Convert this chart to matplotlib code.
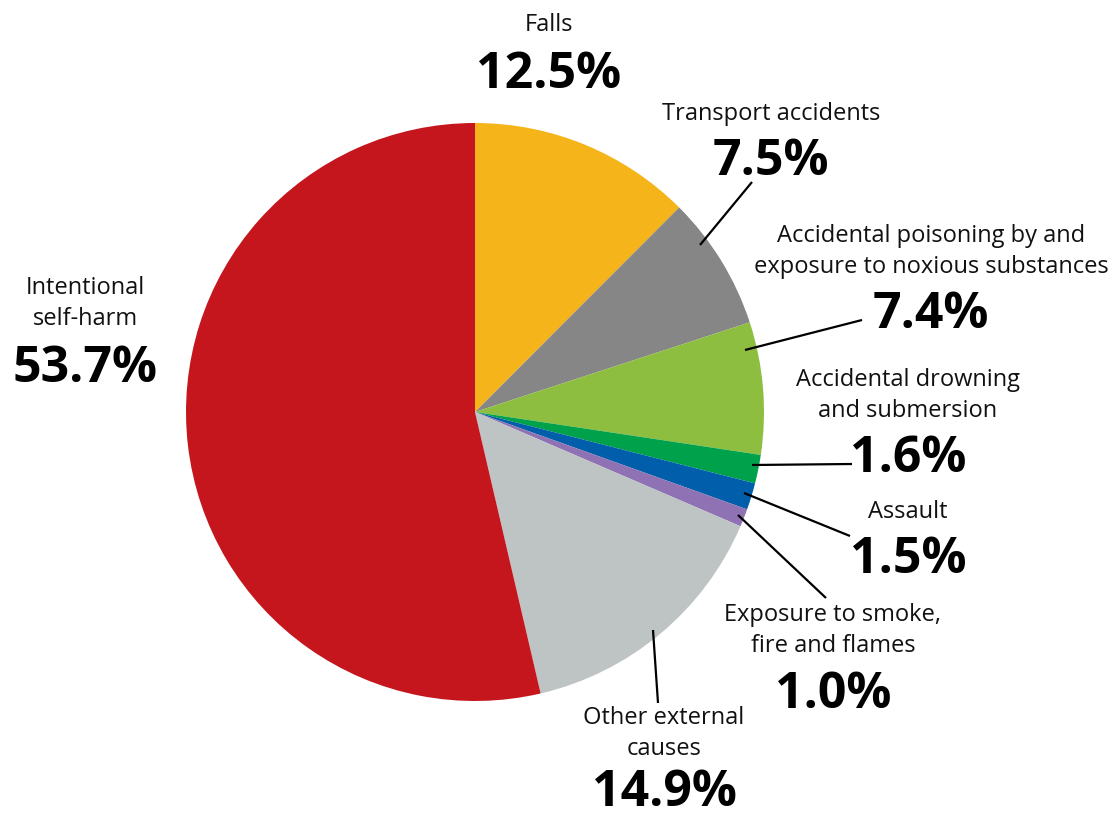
import matplotlib
matplotlib.use("Agg")
import matplotlib.pyplot as plt

# share of deaths from external causes, clockwise from 12 o'clock
causes = ["Falls", "Transport accidents",
          "Accidental poisoning by and\nexposure to noxious substances",
          "Accidental drowning\nand submersion", "Assault",
          "Exposure to smoke,\nfire and flames", "Other external\ncauses",
          "Intentional\nself-harm"]
shares = [12.5, 7.5, 7.4, 1.6, 1.5, 1.0, 14.9, 53.7]
colours = ["#F5B41A", "#868686", "#8DBE3F", "#00A14B", "#005EAA",
           "#8E72B4", "#BEC3C4", "#C4161C"]

W, H = 1120, 814
fig = plt.figure(figsize=(W / 100, H / 100), dpi=100)
ax = fig.add_axes([0, 0, 1, 1])


def py(y):
    # pixel rows count from the top
    return H - y


ax.pie(shares, colors=colours, startangle=90, counterclock=False,
       center=(475, py(412)), radius=289, frame=True,
       wedgeprops=dict(linewidth=0))
ax.set_xlim(0, W)
ax.set_ylim(0, H)
ax.set_aspect("equal")
ax.axis("off")

# label layout: (centre x, baseline of last label line, baseline of percentage)
spots = [(549, 31, 88), (771, 120, 175), (931, 273, 328), (908, 417, 472),
         (908, 518, 573), (833, 652, 708), (664, 755, 806), (85, 325, 382)]

for name, val, (x, ly, vy) in zip(causes, shares, spots):
    ax.text(x, py(ly), name, ha="center", va="baseline",
            fontsize=17, family="Open Sans", linespacing=1.38,
            color="#111111")
    ax.text(x, py(vy), f"{val:.1f}%", ha="center", va="baseline",
            fontsize=36, fontweight="bold", family="Open Sans", color="black")

# leader lines from wedges to labels
leaders = [((700, 245), (752, 182)), ((745, 350), (862, 320)),
           ((752, 465), (852, 464)), ((744, 493), (850, 536)),
           ((738, 515), (826, 598)), ((653, 630), (658, 703))]
for (x0, y0), (x1, y1) in leaders:
    ax.plot([x0, x1], [py(y0), py(y1)], color="black", lw=1.6,
            solid_capstyle="butt")

fig.savefig("out.png", dpi=100)
